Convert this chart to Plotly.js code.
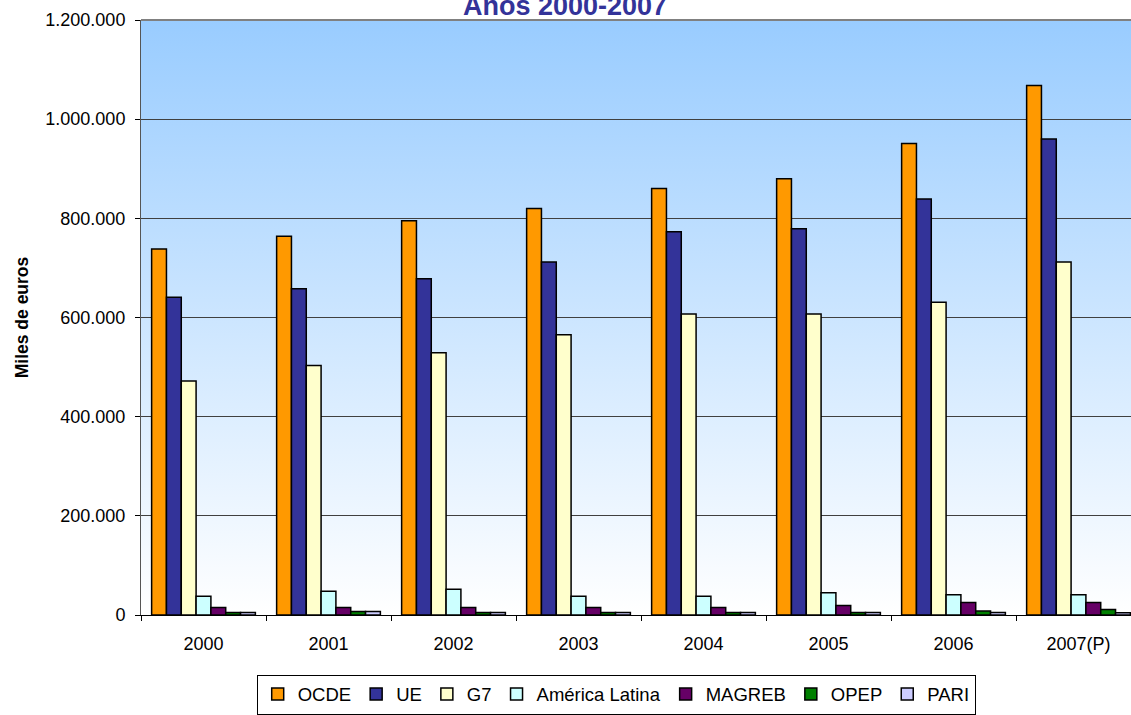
<!DOCTYPE html>
<html>
<head>
<meta charset="utf-8">
<script src="https://cdn.plot.ly/plotly-3.0.1.min.js"></script>
<style>html,body{margin:0;padding:0;background:#fff;}#chart{width:1131px;height:715px;}</style>
</head>
<body>
<div id="chart"></div>
<script>
const years = ["2000", "2001", "2002", "2003", "2004", "2005", "2006", "2007(P)"];
const ocde = [738000, 764000, 795000, 820000, 860000, 880000, 951000, 1068000];
const ue = [641000, 658000, 678000, 712000, 773000, 779000, 839000, 960000];
const g7 = [472000, 503000, 529000, 565000, 607000, 607000, 631000, 712000];
const americaLatina = [38000, 48000, 52000, 38000, 38000, 45000, 41000, 41000];
const magreb = [15000, 15000, 15000, 15000, 15000, 19000, 25000, 25000];
const opep = [5000, 7000, 5000, 5000, 5000, 5000, 8000, 11000];
const pari = [5000, 7000, 5000, 5000, 5000, 5000, 5000, 4500];
const seriesNames = ["OCDE", "UE", "G7", "América Latina", "MAGREB", "OPEP", "PARI"];
const seriesColors = ["#FF9900", "#333399", "#FFFFCC", "#CCFFFF", "#660066", "#008000", "#CCCCFF"];
const seriesValues = [ocde, ue, g7, americaLatina, magreb, opep, pari];
const yTicks = [0, 200000, 400000, 600000, 800000, 1000000, 1200000];

const FONT = "'Liberation Sans', Arial, sans-serif";

const traces = seriesValues.map((vals, i) => ({
  type: "bar",
  name: seriesNames[i],
  x: years,
  y: vals,
  marker: {color: seriesColors[i], line: {color: "#000000", width: 1.5}},
  hoverinfo: "x+y+name"
}));

const bgSvg = '<svg xmlns="http://www.w3.org/2000/svg" width="100" height="100" preserveAspectRatio="none">' +
  '<defs><linearGradient id="g" x1="0" y1="0" x2="0" y2="1">' +
  '<stop offset="0" stop-color="#99CCFF"/><stop offset="1" stop-color="#FFFFFF"/>' +
  '</linearGradient></defs><rect width="100" height="100" fill="url(#g)"/></svg>';

const layout = {
  width: 1131,
  height: 715,
  margin: {l: 141, r: 0, t: 20, b: 100, autoexpand: false},
  paper_bgcolor: "#FFFFFF",
  plot_bgcolor: "rgba(0,0,0,0)",
  separators: ",.",
  barmode: "group",
  bargap: 0.17,
  bargroupgap: 0,
  font: {family: FONT, size: 18, color: "#000000"},
  showlegend: true,
  legend: {
    orientation: "h",
    x: 0.48, xanchor: "center",
    y: -0.1, yanchor: "top",
    bordercolor: "#000000", borderwidth: 1,
    bgcolor: "#FFFFFF",
    font: {family: FONT, size: 18.5, color: "#000000"},
    traceorder: "normal",
    itemwidth: 30,
    tracegroupgap: 0
  },
  xaxis: {
    type: "category",
    range: [-0.5, 7.42],
    showgrid: false,
    showline: true,
    linecolor: "#000000",
    linewidth: 1,
    ticks: "outside",
    tickson: "boundaries",
    ticklen: 5,
    tickcolor: "#000000",
    ticklabelstandoff: 12,
    tickfont: {family: FONT, size: 18, color: "#000000"},
    zeroline: false,
    fixedrange: true
  },
  yaxis: {
    range: [0, 1200000],
    tickvals: yTicks,
    tickformat: ",d",
    showgrid: true,
    gridcolor: "#404040",
    gridwidth: 1,
    showline: true,
    linecolor: "#555555",
    linewidth: 1,
    ticks: "outside",
    ticklen: 5,
    tickcolor: "#000000",
    ticklabelstandoff: 6,
    tickfont: {family: FONT, size: 18, color: "#000000"},
    zeroline: false,
    title: {text: "Miles de euros", font: {family: FONT, size: 17.5, color: "#000000", weight: "bold"}, standoff: 12},
    fixedrange: true
  },
  images: [{
    source: "data:image/svg+xml;charset=utf-8," + encodeURIComponent(bgSvg),
    xref: "paper", yref: "paper",
    x: 0, y: 1, sizex: 1, sizey: 1,
    sizing: "stretch",
    xanchor: "left", yanchor: "top",
    layer: "below"
  }],
  shapes: [{
    type: "line", xref: "paper", yref: "paper",
    x0: 0, x1: 1, y0: 1, y1: 1,
    line: {color: "#808080", width: 2}
  }],
  annotations: [{
    text: "<b>Años 2000-2007</b>",
    xref: "paper", yref: "paper",
    x: 0.4278, y: 0.995,
    xanchor: "center", yanchor: "bottom",
    showarrow: false,
    font: {family: FONT, size: 27, color: "#333399"}
  }]
};

Plotly.newPlot("chart", traces, layout, {displayModeBar: false, staticPlot: true});
</script>
</body>
</html>
